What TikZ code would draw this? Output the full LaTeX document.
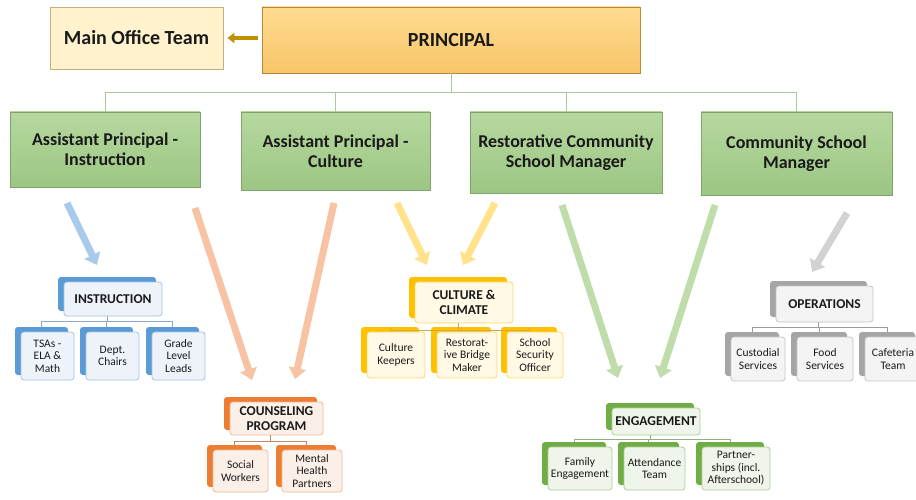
\documentclass[tikz,border=0pt]{standalone}
\usepackage{fontspec}
\setmainfont{Carlito}
\usetikzlibrary{arrows.meta,calc}
\definecolor{txt}{HTML}{1A1A1A}
\definecolor{moFill}{HTML}{FFF2CC}
\definecolor{moDraw}{HTML}{C4AE7C}
\definecolor{prTop}{HTML}{FFDB91}
\definecolor{prBot}{HTML}{F8C56A}
\definecolor{prDraw}{HTML}{B98A3A}
\definecolor{gTop}{HTML}{B6D89F}
\definecolor{gBot}{HTML}{9CC683}
\definecolor{gDraw}{HTML}{7FA36A}
\definecolor{topLine}{HTML}{A8C79A}
\definecolor{moArrow}{HTML}{BF9000}
% palettes
\definecolor{blueB}{HTML}{5B9BD5}\definecolor{blueF}{HTML}{EEF3FA}\definecolor{blueD}{HTML}{A4C4E6}\definecolor{blueL}{HTML}{8EA9C8}\definecolor{blueA}{HTML}{A9CBEB}
\definecolor{oranB}{HTML}{ED7D31}\definecolor{oranF}{HTML}{FBF0E8}\definecolor{oranD}{HTML}{F2B895}\definecolor{oranL}{HTML}{BF8A6A}\definecolor{oranA}{HTML}{F7C3A3}
\definecolor{yellB}{HTML}{FFC000}\definecolor{yellF}{HTML}{FFF9E6}\definecolor{yellD}{HTML}{FFD966}\definecolor{yellL}{HTML}{CDAA4A}\definecolor{yellA}{HTML}{FFE28A}
\definecolor{grenB}{HTML}{70AD47}\definecolor{grenF}{HTML}{EFF5EA}\definecolor{grenD}{HTML}{A9D18E}\definecolor{grenL}{HTML}{93B07F}\definecolor{grenA}{HTML}{BFDDAA}
\definecolor{grayB}{HTML}{A5A5A5}\definecolor{grayF}{HTML}{F4F4F4}\definecolor{grayD}{HTML}{C6C6C6}\definecolor{grayL}{HTML}{9A9A9A}\definecolor{grayA}{HTML}{D2D2D2}
\tikzset{
  topbox/.style={draw, line width=0.8pt, inner sep=0pt, align=center, text=txt, font=\fontsize{20}{22}\selectfont\bfseries},
  mgr/.style={draw=gDraw, line width=0.8pt, top color=gTop, bottom color=gBot, inner sep=0pt, align=center, text=txt, font=\fontsize{18}{20}\selectfont\bfseries},
  backbox/.style={fill=#1B, draw=none, rounded corners=3pt, inner sep=0pt},
  frontbox/.style={fill=#1F, draw=#1D, line width=0.8pt, rounded corners=3pt, inner sep=1pt, align=center, text=txt},
  ttl/.style={font=\fontsize{13.5}{14.5}\selectfont\bfseries},
  chl/.style={font=\fontsize{11.5}{12.5}\selectfont},
  bus/.style={draw=#1L, line width=0.7pt},
  bigarrow/.style={draw=#1A, line width=7pt, -{Triangle[width=17pt,length=11pt]}},
}
\newcommand\stk[8]{% name, palette, cx, cy, w, h, style, text
  \node[backbox=#2, minimum width=#5pt, minimum height=#6pt] (#1b) at (#3-6,#4-5) {};
  \node[frontbox=#2, #7, minimum width=#5pt, minimum height=#6pt] (#1) at (#3,#4) {#8};
}
\begin{document}
\begin{tikzpicture}[x=1pt,y=-1pt]
\useasboundingbox (0,0) rectangle (916,500);
\clip (0,0) rectangle (916,500);
\fill[white] (0,0) rectangle (916,500);

% top level
\node[topbox, draw=moDraw, fill=moFill, minimum width=173pt, minimum height=62pt] (mo) at (136.5,38) {Main Office Team};
\node[topbox, draw=prDraw, top color=prTop, bottom color=prBot, minimum width=378pt, minimum height=66pt] (pr) at (451,40) {PRINCIPAL};
\draw[moArrow, line width=4pt, -{Triangle[width=10pt,length=7pt]}, shorten <=4pt, shorten >=4pt] (mo.east -| pr.west) -- (mo.east);

\node[mgr, minimum width=190pt, minimum height=75pt] (api) at (105,149.5) {Assistant Principal -\\Instruction};
\node[mgr, minimum width=189pt, minimum height=78pt] (apc) at (335.5,151) {Assistant Principal -\\Culture};
\node[mgr, minimum width=192pt, minimum height=81pt] (rcsm) at (566,152.5) {Restorative Community\\School Manager};
\node[mgr, minimum width=191pt, minimum height=83pt] (csm) at (796.5,153.5) {Community School\\Manager};

\coordinate (tbus) at (0,93);
\draw[topLine, line width=1pt] (pr.south) -- (pr.south |- tbus);
\foreach \m in {api,apc,rcsm,csm}{
  \draw[topLine, line width=1pt] (api.north |- tbus) -- (csm.north |- tbus);
  \draw[topLine, line width=1pt] (\m.north |- tbus) -- (\m.north);
}

% INSTRUCTION
\stk{ins}{blue}{113}{299}{98}{34}{ttl}{INSTRUCTION}
\stk{tsa}{blue}{47.5}{356}{53}{48}{chl}{TSAs -\\ELA \&\\Math}
\stk{dep}{blue}{112.5}{356}{53}{48}{chl}{Dept.\\Chairs}
\stk{gll}{blue}{178.5}{356}{53}{48}{chl}{Grade\\Level\\Leads}
\coordinate (ibus) at (0,321);
\foreach \c in {tsab,depb,gllb}{
  \draw[bus=blue] (insb.south |- ins.south) -- (insb.south |- ibus) -| (\c.north);
}

% COUNSELING
\stk{cou}{oran}{276.5}{418.5}{93}{33}{ttl}{COUNSELING\\PROGRAM}
\stk{sow}{oran}{240.5}{471}{55}{42}{chl}{Social\\Workers}
\stk{mhp}{oran}{312}{471}{60}{42}{chl}{Mental\\Health\\Partners}
\coordinate (cbus) at (0,441);
\foreach \c in {sowb,mhpb}{
  \draw[bus=oran] (coub.south |- cou.south) -- (coub.south |- cbus) -| (\c.north);
}

% CULTURE & CLIMATE
\stk{cc}{yell}{464}{302.5}{98}{41}{ttl}{CULTURE \&\\CLIMATE}
\stk{ck}{yell}{396}{355}{58}{46}{chl}{Culture\\Keepers}
\stk{rbm}{yell}{467}{355}{60}{46}{chl}{Restorat-\\ive Bridge\\Maker}
\stk{sso}{yell}{535}{355}{56}{46}{chl}{School\\Security\\Officer}
\coordinate (ybus) at (0,330);
\foreach \c in {ckb,rbmb,ssob}{
  \draw[bus=yell] (ccb.south |- cc.south) -- (ccb.south |- ybus) -| (\c.north);
}

% ENGAGEMENT
\stk{eng}{gren}{656}{421.5}{88}{27}{ttl}{ENGAGEMENT}
\stk{fam}{gren}{580}{468.5}{64}{43}{chl}{Family\\Engagement}
\stk{att}{gren}{654.5}{468.5}{61}{43}{chl}{Attendance\\Team}
\stk{par}{gren}{736}{468.5}{68}{43}{chl}{Partner-\\ships (incl.\\Afterschool)}
\coordinate (ebus) at (0,439);
\foreach \c in {famb,attb,parb}{
  \draw[bus=gren] (engb.south |- eng.south) -- (engb.south |- ebus) -| (\c.north);
}

% OPERATIONS
\stk{ops}{gray}{824.5}{304}{97}{36}{ttl}{OPERATIONS}
\stk{cus}{gray}{758}{359}{54}{44}{chl}{Custodial\\Services}
\stk{fos}{gray}{825}{359}{56}{44}{chl}{Food\\Services}
\stk{caf}{gray}{893}{359}{56}{44}{chl}{Cafeteria\\Team}
\coordinate (obus) at (0,327);
\foreach \c in {cusb,fosb,cafb}{
  \draw[bus=gray] (opsb.south |- ops.south) -- (opsb.south |- obus) -| (\c.north);
}

% big arrows
\coordinate (a1s) at (67,203);  \coordinate (a1e) at (97,265);
\coordinate (a2s) at (195,208); \coordinate (a2e) at (252,380);
\coordinate (a3s) at (334,203); \coordinate (a3e) at (295,379);
\coordinate (a4s) at (397,203); \coordinate (a4e) at (427,265);
\coordinate (a5s) at (495,203); \coordinate (a5e) at (463,265);
\coordinate (a6s) at (562,205); \coordinate (a6e) at (618,378);
\coordinate (a7s) at (715,205); \coordinate (a7e) at (660,378);
\coordinate (a8s) at (847,213); \coordinate (a8e) at (812,272);
\draw[bigarrow=blue] (a1s) -- (a1e);
\draw[bigarrow=oran] (a2s) -- (a2e);
\draw[bigarrow=oran] (a3s) -- (a3e);
\draw[bigarrow=yell] (a4s) -- (a4e);
\draw[bigarrow=yell] (a5s) -- (a5e);
\draw[bigarrow=gren] (a6s) -- (a6e);
\draw[bigarrow=gren] (a7s) -- (a7e);
\draw[bigarrow=gray] (a8s) -- (a8e);
\end{tikzpicture}
\end{document}
